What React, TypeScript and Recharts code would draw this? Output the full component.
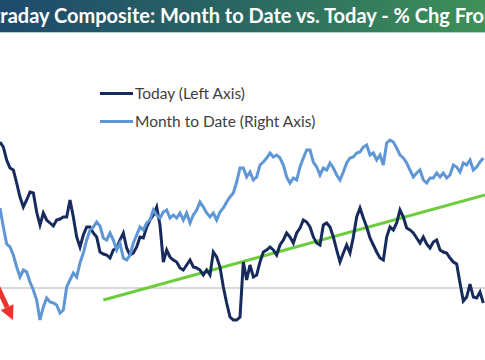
import React from 'react'
import { LineChart, Line, XAxis, YAxis, ReferenceLine } from 'recharts'

// % change from open, left axis (Today)
const today = [
  1.46, 1.41, 1.28, 1.2, 1.18, 1.05, 0.91, 0.81, 0.88, 0.96,
  0.95, 0.76, 0.63, 0.75, 0.68, 0.65, 0.62, 0.68, 0.69, 0.71,
  0.71, 0.88, 0.71, 0.51, 0.41, 0.53, 0.61, 0.61, 0.55, 0.51,
  0.36, 0.34, 0.33, 0.3, 0.38, 0.4, 0.48, 0.55, 0.4, 0.33,
  0.35, 0.41, 0.51, 0.5, 0.61, 0.68, 0.73, 0.81, 0.63, 0.26,
  0.38, 0.31, 0.28, 0.26, 0.2, 0.18, 0.23, 0.28, 0.21, 0.2,
  0.18, 0.13, 0.18, 0.13, 0.36, 0.31, 0.21, 0.01, -0.15, -0.29,
  -0.32, -0.32, -0.29, 0.26, 0.08, 0.23, 0.11, 0.13, 0.26, 0.36,
  0.38, 0.41, 0.38, 0.33, 0.43, 0.48, 0.55, 0.51, 0.45, 0.55,
  0.6, 0.68, 0.66, 0.61, 0.51, 0.45, 0.43, 0.63, 0.65, 0.61,
  0.51, 0.38, 0.26, 0.35, 0.43, 0.35, 0.51, 0.71, 0.8, 0.7,
  0.61, 0.5, 0.43, 0.36, 0.3, 0.28, 0.51, 0.61, 0.58, 0.65,
  0.78, 0.71, 0.6, 0.58, 0.55, 0.5, 0.45, 0.51, 0.44, 0.4,
  0.46, 0.48, 0.38, 0.36, 0.35, 0.3, 0.26, 0.24, 0.05, -0.13,
  -0.09, 0.04, -0.09, -0.1, -0.04, -0.15,
]

// % change, right axis (Month to Date)
const monthToDate = [
  1.84, 1.46, 1.12, 1.06, 0.9, 0.66, 0.46, 0.6, 0.56, 0.36,
  0.2, 0.0, -0.4, -0.14, 0.04, -0.04, -0.06, -0.1, -0.26, -0.2,
  0.26, 0.4, 0.54, 0.46, 0.74, 0.94, 1.2, 1.4, 1.46, 1.56,
  1.48, 1.24, 1.2, 1.34, 1.2, 1.0, 1.14, 0.84, 0.8, 0.9,
  1.14, 1.3, 1.46, 1.4, 1.54, 1.6, 1.8, 1.7, 1.64, 1.76,
  1.8, 1.64, 1.7, 1.64, 1.74, 1.6, 1.74, 1.54, 1.7, 1.8,
  1.96, 1.86, 1.74, 1.66, 1.74, 1.6, 1.76, 1.84, 1.96, 2.06,
  2.14, 2.36, 2.64, 2.64, 2.46, 2.56, 2.4, 2.46, 2.7, 2.76,
  2.84, 2.94, 2.86, 2.9, 2.84, 2.7, 2.46, 2.34, 2.44, 2.4,
  2.66, 2.84, 3.0, 3.0, 2.76, 2.66, 2.5, 2.64, 2.6, 2.74,
  2.64, 2.5, 2.4, 2.56, 2.74, 2.84, 2.86, 2.94, 2.96, 3.06,
  3.1, 2.9, 2.94, 2.8, 2.9, 2.7, 3.14, 3.2, 3.16, 3.04,
  2.9, 2.84, 2.74, 2.6, 2.46, 2.54, 2.6, 2.4, 2.34, 2.44,
  2.44, 2.54, 2.46, 2.54, 2.44, 2.5, 2.7, 2.66, 2.56, 2.74,
  2.7, 2.8, 2.6, 2.66, 2.76, 2.84,
]

const seriesNames = ['Today (Left Axis)', 'Month to Date (Right Axis)']

// trend line on the Today series
const trendStart = { i: 31, v: -0.12 }
const trendEnd = { i: 145.5, v: 0.93 }

// red arrow
const arrowStart = { i: 0, v: -0.04 }
const arrowEnd = { i: 3.9, v: -0.32 }

const data = today.map((t, i) => ({ i, today: t, mtd: monthToDate[i] }))

const NAVY = '#172a5c'
const LIGHT = '#5f97d6'

const ArrowShape = (props: any) => {
  const { x1, y1, x2, y2 } = props
  if ([x1, y1, x2, y2].some(v => v == null || isNaN(v))) return null
  const dx = x2 - x1
  const dy = y2 - y1
  const len = Math.sqrt(dx * dx + dy * dy)
  const ux = dx / len
  const uy = dy / len
  const head = 14
  const half = 7
  const bx = x2 - ux * head
  const by = y2 - uy * head
  return (
    <g>
      <line x1={x1 - ux * 10} y1={y1 - uy * 10} x2={bx} y2={by} stroke="#e8352b" strokeWidth={5} />
      <polygon
        points={`${x2},${y2} ${bx - uy * half},${by + ux * half} ${bx + uy * half},${by - ux * half}`}
        fill="#e8352b"
      />
    </g>
  )
}

export default function App() {
  return (
    <div style={{ position: 'absolute', left: 0, top: 0, width: 485, height: 360, background: '#fff', overflow: 'hidden' }}>
      <LineChart width={485} height={360} data={data} margin={{ top: 0, right: 0, bottom: 0, left: 0 }}>
        <XAxis dataKey="i" type="number" domain={[0, 145.5]} hide />
        <YAxis yAxisId="left" domain={[-0.72, 2.88]} hide />
        <YAxis yAxisId="right" orientation="right" domain={[-1.2, 6]} hide />
        <ReferenceLine yAxisId="left" y={0} stroke="#d9d9d9" strokeWidth={2} />
        <ReferenceLine
          yAxisId="left"
          segment={[{ x: trendStart.i, y: trendStart.v }, { x: trendEnd.i, y: trendEnd.v }]}
          stroke="#6ccd3f"
          strokeWidth={3}
          ifOverflow="visible"
        />
        <Line yAxisId="left" dataKey="today" stroke={NAVY} strokeWidth={3} dot={false} isAnimationActive={false} />
        <Line yAxisId="right" dataKey="mtd" stroke={LIGHT} strokeWidth={3} dot={false} isAnimationActive={false} />
        <ReferenceLine
          yAxisId="left"
          segment={[{ x: arrowStart.i, y: arrowStart.v }, { x: arrowEnd.i, y: arrowEnd.v }]}
          ifOverflow="visible"
          shape={ArrowShape}
        />
      </LineChart>

      <div
        style={{
          position: 'absolute', left: 100, top: 79, width: 260,
          fontFamily: 'Lato, sans-serif', fontSize: 15.5, color: '#404040', lineHeight: '28px',
        }}
      >
        {seriesNames.map((label, idx) => (
          <div key={label} style={{ display: 'flex', alignItems: 'center' }}>
            <span
              style={{
                width: 33, height: 3, background: idx === 0 ? NAVY : LIGHT,
                display: 'inline-block', marginRight: 2,
              }}
            />
            {label}
          </div>
        ))}
      </div>

      <div
        style={{
          position: 'absolute', left: 0, top: 0, width: 485, height: 32,
          background: 'linear-gradient(90deg, #1e4a6c 0%, #2a6762 50%, #3e9158 100%)',
          borderBottom: '1px solid #b8cfc4',
          overflow: 'hidden', whiteSpace: 'nowrap',
        }}
      >
        <span
          style={{
            position: 'absolute', left: -24, top: 3, color: '#fff',
            fontFamily: 'Lato, sans-serif', fontWeight: 700, fontSize: 20,
          }}
        >
          Intraday Composite: Month to Date vs. Today - % Chg From Open
        </span>
      </div>
    </div>
  )
}
